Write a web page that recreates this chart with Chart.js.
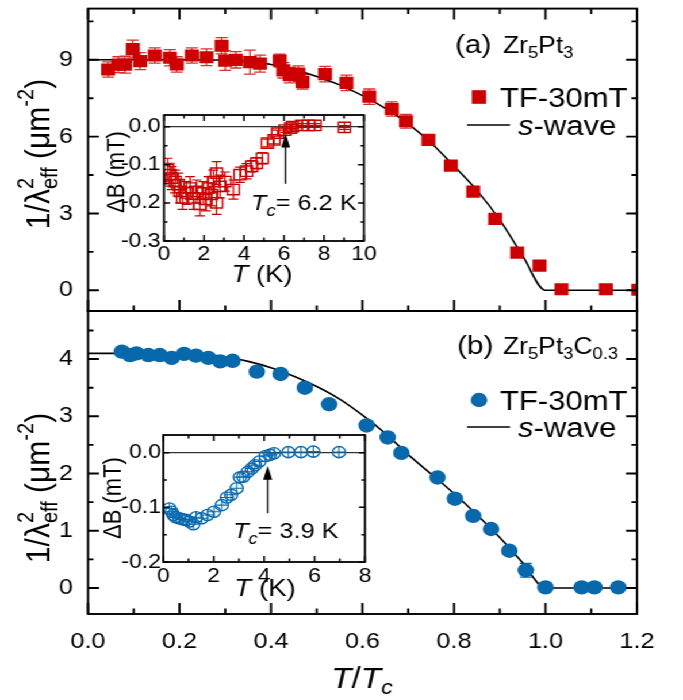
<!DOCTYPE html>
<html><head><meta charset="utf-8">
<script src="https://cdn.jsdelivr.net/npm/chart.js@4.4.1/dist/chart.umd.min.js"></script>
<style>
html,body{margin:0;padding:0;background:#fff;overflow:hidden;width:683px;height:700px}
#wrap{position:absolute;left:0;top:0;width:594px;height:700px;transform:scaleX(1.149832);transform-origin:0 0}
canvas{position:absolute;left:0}
</style></head><body>
<div id="wrap">
<canvas id="cA" width="594" height="320" style="top:0px;width:594px;height:320px"></canvas>
<canvas id="cB" width="594" height="400" style="top:300px;width:594px;height:400px"></canvas>
<canvas id="cC" width="594" height="200" style="top:100px;width:594px;height:200px"></canvas>
<canvas id="cD" width="594" height="200" style="top:420px;width:594px;height:200px"></canvas>
</div>
<script>
// ---------- DATA ----------
// (a) Zr5Pt3, TF-30mT : T/Tc, 1/lambda^2 (um^-2), error
const tA   = [0.044,0.066,0.081,0.098,0.114,0.146,0.179,0.194,0.227,0.259,0.292,0.300,0.323,0.354,0.376,0.419,0.427,0.441,0.460,0.469,0.518,0.565,0.615,0.664,0.695,0.744,0.793,0.842,0.890,0.938,0.987,1.035,1.132,1.203];
const lamA = [8.62,8.81,8.81,9.42,8.95,9.17,9.08,8.82,9.17,9.10,9.55,8.97,9.00,8.91,8.85,8.97,8.59,8.40,8.46,8.14,8.44,8.10,7.56,7.08,6.60,5.87,4.87,3.85,2.79,1.47,0.96,0.04,0.04,0.02];
const errA = [0.30,0.31,0.33,0.35,0.33,0.30,0.32,0.30,0.30,0.33,0.32,0.38,0.32,0.47,0.33,0.25,0.30,0.30,0.30,0.28,0.30,0.30,0.30,0.28,0.27,0.15,0.15,0.15,0.15,0.15,0.15,0.15,0.15,0.15];
// (a) s-wave fit
const fitTA = [0,0.1,0.2,0.3,0.35,0.4,0.45,0.5,0.55,0.6,0.65,0.7,0.75,0.8,0.85,0.9,0.95,1.0,1.2];
const fitA  = [9.0,9.0,9.0,8.99,8.93,8.82,8.62,8.35,8.02,7.6,7.1,6.5,5.75,4.85,3.9,2.75,1.35,0,0];
// (b) Zr5Pt3C0.3, TF-30mT
const tB   = [0.074,0.092,0.106,0.132,0.157,0.183,0.210,0.236,0.263,0.289,0.316,0.369,0.421,0.474,0.527,0.609,0.655,0.685,0.764,0.802,0.842,0.881,0.921,0.957,1.000,1.079,1.107,1.159];
const lamB = [4.13,4.07,4.10,4.07,4.07,4.02,4.09,4.06,4.02,3.96,3.97,3.78,3.74,3.50,3.21,2.84,2.63,2.36,1.93,1.56,1.26,1.03,0.65,0.31,0.01,0.01,0.01,0.01];
const errB = [0.03,0.03,0.03,0.03,0.03,0.03,0.03,0.03,0.03,0.03,0.03,0.03,0.03,0.03,0.03,0.03,0.03,0.03,0.03,0.03,0.03,0.03,0.04,0.12,0.03,0.03,0.03,0.03];
// (b) s-wave fit
const fitTB = [0,0.1,0.2,0.3,0.35,0.4,0.45,0.5,0.55,0.6,0.65,0.7,0.75,0.8,0.85,0.9,0.95,1.0,1.2];
const fitB  = [4.10,4.10,4.09,4.04,3.96,3.85,3.70,3.52,3.30,3.02,2.70,2.33,1.99,1.65,1.28,0.88,0.44,0,0];
// inset (a): T (K), dB (mT), error
const tIa  = [0.18,0.30,0.38,0.55,0.72,0.80,0.93,1.13,1.30,1.47,1.63,1.80,1.97,2.10,2.22,2.38,2.47,2.63,2.63,2.80,3.05,3.47,3.80,4.13,4.38,4.63,4.92,5.17,5.50,5.68,6.05,6.33,6.43,6.88,7.22,7.55,9.02];
const dBa  = [-0.113,-0.126,-0.135,-0.144,-0.152,-0.170,-0.187,-0.174,-0.161,-0.187,-0.170,-0.204,-0.174,-0.191,-0.161,-0.178,-0.144,-0.200,-0.122,-0.157,-0.144,-0.165,-0.126,-0.117,-0.104,-0.096,-0.083,-0.043,-0.035,-0.017,-0.009,-0.004,0.000,0.003,0.003,0.003,-0.002];
const eIa  = [0.03,0.03,0.03,0.03,0.03,0.03,0.03,0.03,0.03,0.03,0.03,0.03,0.03,0.03,0.03,0.03,0.03,0.03,0.03,0.03,0.025,0.025,0.02,0.02,0.015,0.015,0.015,0.01,0.01,0.008,0.006,0.005,0.005,0.005,0.005,0.005,0.005];
// inset (b)
const tIb  = [0.24,0.33,0.40,0.50,0.63,0.77,0.90,1.03,1.19,1.30,1.52,1.75,2.01,2.32,2.52,2.69,2.91,3.04,3.17,3.35,3.51,3.64,3.81,4.06,4.23,4.39,4.96,5.46,5.95,6.97];
const dBb  = [-0.102,-0.108,-0.114,-0.118,-0.120,-0.122,-0.123,-0.126,-0.131,-0.118,-0.120,-0.114,-0.108,-0.096,-0.082,-0.077,-0.065,-0.045,-0.044,-0.035,-0.029,-0.023,-0.016,-0.006,-0.004,-0.001,0.001,0.001,0.002,0.001];
// ticks
const xTicks = [0,0.2,0.4,0.6,0.8,1.0,1.2];
const xTickLabels = ['0.0','0.2','0.4','0.6','0.8','1.0','1.2'];
const xMinor = [0.1,0.3,0.5,0.7,0.9,1.1];
const yTicksA = [0,3,6,9];
const yMinorA = [1.5,4.5,7.5,10.5];
const yTicksB = [0,1,2,3,4];
const yMinorB = [0.5,1.5,2.5,3.5,4.5];
const xTicksIa = [0,2,4,6,8,10], xMinorIa = [1,3,5,7,9];
const yTicksIa = [0,-0.1,-0.2,-0.3], yMinorIa = [-0.05,-0.15,-0.25];
const yTickLabelsIa = ['0.0','-0.1','-0.2','-0.3'];
const xTicksIb = [0,2,4,6,8], xMinorIb = [1,3,5,7];
const yTicksIb = [0,-0.1,-0.2], yMinorIb = [-0.05,-0.15];
const yTickLabelsIb = ['0.0','-0.1','-0.2'];
const tcA = 6.2, tcB = 3.9;
const arrowA = [6.08,-0.150,-0.018], arrowB = [4.14,-0.111,-0.024];

// ---------- helpers ----------
const S = 683/594;
const ix = v => v / S;
const FAM = '"Liberation Sans", Arial, Helvetica, sans-serif';
const RED = '#cc0000', BLUE = '#0868ac';
const font = (s, i) => (i ? 'italic ' : '') + s + 'px ' + FAM;
const pts = (xs, ys) => xs.map((x, i) => ({x, y: ys[i]}));

function rich(ctx, parts, x, y, align, rot) {
  const m = parts.map(p => { ctx.font = font(p.s, p.i); return ctx.measureText(p.t).width; });
  let total = 0; parts.forEach((p, k) => { if (p.adv !== 0) total += m[k]; });
  ctx.save();
  ctx.translate(x, y);
  if (rot) ctx.rotate(rot);
  let cx = align === 'center' ? -total / 2 : 0;
  ctx.textBaseline = 'alphabetic'; ctx.textAlign = 'left'; ctx.fillStyle = '#000';
  parts.forEach((p, k) => { ctx.font = font(p.s, p.i); ctx.fillText(p.t, cx, p.dy || 0); if (p.adv !== 0) cx += m[k]; });
  ctx.restore();
}

function framePlugin(id, o) {
  return { id, afterDatasetsDraw(chart) {
    const {ctx, chartArea: a, scales: {x, y}} = chart;
    ctx.save(); ctx.strokeStyle = '#000';
    ctx.lineWidth = o.lw;
    ctx.strokeRect(a.left, a.top, a.right - a.left, a.bottom - a.top);
    ctx.beginPath();
    const xt = (vals, L) => vals.forEach(v => { const px = x.getPixelForValue(v);
      ctx.moveTo(px, a.bottom); ctx.lineTo(px, a.bottom - L);
      if (o.top) { ctx.moveTo(px, a.top); ctx.lineTo(px, a.top + L); } });
    const yt = (vals, L) => vals.forEach(v => { if (v < y.min || v > y.max) return; const py = y.getPixelForValue(v); const l = L / S;
      ctx.moveTo(a.left, py); ctx.lineTo(a.left + l, py);
      if (o.right) { ctx.moveTo(a.right, py); ctx.lineTo(a.right - l, py); } });
    xt(o.xMaj, o.maj); xt(o.xMin, o.min); yt(o.yMaj, o.maj); yt(o.yMin, o.min);
    ctx.lineWidth = o.tw; ctx.stroke();
    ctx.restore();
  }};
}

function drawErr(chart, phase) {
  const ctx = chart.ctx, ys = chart.scales.y, a = chart.chartArea;
  chart.data.datasets.forEach((ds, i) => {
    if (!ds.errorBars || (ds.errPhase || 'before') !== phase) return;
    const meta = chart.getDatasetMeta(i);
    ctx.save();
    ctx.beginPath(); ctx.rect(a.left, a.top, a.right - a.left, a.bottom - a.top); ctx.clip();
    ctx.strokeStyle = ds.errColor || ds.borderColor; ctx.lineWidth = ds.errWidth || 1.2;
    ctx.beginPath();
    meta.data.forEach((pt, j) => {
      const v = ds.data[j].y, e = ds.errorBars[j], c = ds.errCap;
      const y1 = ys.getPixelForValue(v + e), y2 = ys.getPixelForValue(v - e), x = pt.x;
      ctx.moveTo(x, y1); ctx.lineTo(x, y2);
      ctx.moveTo(x - c, y1); ctx.lineTo(x + c, y1);
      ctx.moveTo(x - c, y2); ctx.lineTo(x + c, y2);
    });
    ctx.stroke();
    ctx.restore();
  });
}
const errPlugin = { id: 'errbars',
  beforeDatasetsDraw(chart) { drawErr(chart, 'before'); },
  afterDatasetsDraw(chart) { drawErr(chart, 'after'); } };

function zeroLine(chart) {
  const {ctx, chartArea: a, scales: {y}} = chart;
  const py = y.getPixelForValue(0);
  ctx.save(); ctx.strokeStyle = '#333'; ctx.lineWidth = 1.3;
  ctx.beginPath(); ctx.moveTo(a.left, py); ctx.lineTo(a.right, py); ctx.stroke(); ctx.restore();
}
function arrow(chart, arr) {
  const {ctx, scales: {x, y}} = chart;
  const px = x.getPixelForValue(arr[0]), y1 = y.getPixelForValue(arr[1]), y2 = y.getPixelForValue(arr[2]);
  const head = 14, hw = ix(4.5);
  ctx.save(); ctx.strokeStyle = '#000'; ctx.fillStyle = '#000'; ctx.lineWidth = 1.3;
  ctx.beginPath(); ctx.moveTo(px, y1); ctx.lineTo(px, y2 + head - 1); ctx.stroke();
  ctx.beginPath(); ctx.moveTo(px, y2); ctx.lineTo(px - hw, y2 + head); ctx.lineTo(px + hw, y2 + head); ctx.closePath(); ctx.fill();
  ctx.restore();
}

function yAxisOpts(min, max, ticks, labels, size, pad, width) {
  return { type: 'linear', min, max,
    grid: {display: false, drawTicks: false}, border: {display: false},
    ticks: {font: {family: FAM, size}, color: '#000', padding: pad, autoSkip: false,
      callback: (v, i) => labels ? labels[i] : String(v)},
    afterBuildTicks: s => { s.ticks = ticks.map(v => ({value: v})); },
    afterFit: s => { s.width = width; s.paddingTop = 0; s.paddingBottom = 0; } };
}
function xAxisOpts(min, max, ticks, labels, size, pad, height, show) {
  return { type: 'linear', min, max,
    grid: {display: false, drawTicks: false}, border: {display: false},
    ticks: {display: show, font: {family: FAM, size}, color: '#000', padding: pad, autoSkip: false, maxRotation: 0, minRotation: 0,
      callback: (v, i) => labels ? labels[i] : String(v)},
    afterBuildTicks: s => { s.ticks = ticks.map(v => ({value: v})); },
    afterFit: s => { s.height = height; s.paddingLeft = 0; s.paddingRight = 0; } };
}
const base = { responsive: false, animation: false, events: [],
  plugins: {legend: {display: false}, tooltip: {enabled: false}} };

const ytitle = [{t:'1/λ',s:30},{t:'2',s:20,dy:-14,adv:0},{t:'eff',s:20,dy:7},{t:' (μm',s:30},{t:'-2',s:20,dy:-14},{t:')',s:30}];

// ---------- (a) main ----------
new Chart(document.getElementById('cA'), {
  type: 'scatter',
  data: {datasets: [
    {label: 'TF-30mT', data: pts(tA, lamA), pointStyle: 'rect', pointRadius: 8.6, backgroundColor: RED, borderColor: RED, borderWidth: 0,
     clip: 0, order: 0, errorBars: errA, errCap: ix(6), errColor: '#d83030', errWidth: 1.3},
    {label: 's-wave', data: pts(fitTA, fitA), showLine: true, pointRadius: 0, borderColor: '#000', borderWidth: 1.6,
     cubicInterpolationMode: 'monotone', clip: 0, order: 1}
  ]},
  options: Object.assign({}, base, {
    layout: {padding: {left: 0, top: 4, right: 594 - ix(637), bottom: 9}},
    scales: {
      x: xAxisOpts(0, 1.2, xTicks, xTickLabels, 21, 0, 0, false),
      y: yAxisOpts(-0.81, 11.0, yTicksA, null, 22, 13, ix(88))
    }
  }),
  plugins: [errPlugin,
    framePlugin('frameA', {lw: 1.9, tw: 1.9, maj: 11, min: 5.5, top: true, right: true, xMaj: xTicks, xMin: xMinor, yMaj: yTicksA, yMin: yMinorA}),
    {id: 'decoA', afterDraw(chart) {
      const ctx = chart.ctx;
      rich(ctx, ytitle, ix(49), 154, 'center', -Math.PI / 2);
      rich(ctx, [{t:'(a)',s:26}], ix(455), 53);
      rich(ctx, [{t:'Zr',s:23},{t:'5',s:16,dy:5},{t:'Pt',s:23},{t:'3',s:16,dy:5}], ix(503), 53);
      ctx.fillStyle = RED; ctx.fillRect(ix(479) - 6.2, 97 - 6.8, 12.4, 13.6);
      rich(ctx, [{t:'TF-30mT',s:27}], ix(500), 107);
      ctx.strokeStyle = '#000'; ctx.lineWidth = 1.6;
      ctx.beginPath(); ctx.moveTo(ix(467), 125); ctx.lineTo(ix(510), 125); ctx.stroke();
      rich(ctx, [{t:'s',s:27,i:true},{t:'-wave',s:27}], ix(518), 135);
    }}]
});

// ---------- (b) main ----------
new Chart(document.getElementById('cB'), {
  type: 'scatter',
  data: {datasets: [
    {label: 'TF-30mT', data: pts(tB, lamB), pointStyle: 'circle', pointRadius: 7.2, backgroundColor: BLUE, borderColor: BLUE, borderWidth: 0,
     clip: 0, order: 0, errorBars: errB, errCap: ix(6), errColor: BLUE, errWidth: 1.3},
    {label: 's-wave', data: pts(fitTB, fitB), showLine: true, pointRadius: 0, borderColor: '#000', borderWidth: 1.6,
     cubicInterpolationMode: 'monotone', clip: 0, order: 1}
  ]},
  options: Object.assign({}, base, {
    layout: {padding: {left: 0, top: 11, right: 594 - ix(637), bottom: 0}},
    scales: {
      x: xAxisOpts(0, 1.2, xTicks, xTickLabels, 22, 15, 86, true),
      y: yAxisOpts(-0.455, 4.84, yTicksB, null, 22, 13, ix(88))
    }
  }),
  plugins: [errPlugin,
    framePlugin('frameB', {lw: 1.9, tw: 1.9, maj: 11, min: 5.5, top: false, right: true, xMaj: xTicks, xMin: xMinor, yMaj: yTicksB, yMin: yMinorB}),
    {id: 'decoB', afterDraw(chart) {
      const ctx = chart.ctx;
      rich(ctx, ytitle, ix(49), 188, 'center', -Math.PI / 2);
      rich(ctx, [{t:'T',s:29,i:true},{t:'/',s:29},{t:'T',s:29,i:true},{t:'c',s:20,i:true,dy:6}], ix(362), 388, 'center');
      rich(ctx, [{t:'(b)',s:26}], ix(457), 54);
      rich(ctx, [{t:'Zr',s:23},{t:'5',s:16,dy:5},{t:'Pt',s:23},{t:'3',s:16,dy:5},{t:'C',s:23},{t:'0.3',s:16,dy:5}], ix(503), 54);
      ctx.fillStyle = BLUE; ctx.beginPath(); ctx.arc(ix(479), 100, 7.2, 0, Math.PI * 2); ctx.fill();
      rich(ctx, [{t:'TF-30mT',s:27}], ix(500), 110);
      ctx.strokeStyle = '#000'; ctx.lineWidth = 1.6;
      ctx.beginPath(); ctx.moveTo(ix(467), 127); ctx.lineTo(ix(510), 127); ctx.stroke();
      rich(ctx, [{t:'s',s:27,i:true},{t:'-wave',s:27}], ix(518), 137);
    }}]
});

// ---------- inset (a) ----------
new Chart(document.getElementById('cC'), {
  type: 'scatter',
  data: {datasets: [
    {data: pts(tIa, dBa), pointStyle: 'rect', pointRadius: 7.3, backgroundColor: 'rgba(0,0,0,0)', borderColor: RED, borderWidth: 1.4,
     clip: 0, errorBars: eIa, errCap: ix(5), errColor: RED, errWidth: 1.2, errPhase: 'before'},
    {data: pts(tIa, dBa), pointStyle: 'cross', pointRadius: c => (tIa[c.dataIndex] > 6.2 ? 5 : 0), borderColor: RED, borderWidth: 1.2, clip: 0}
  ]},
  options: Object.assign({}, base, {
    layout: {padding: {left: 0, top: 15, right: 594 - ix(364), bottom: 0}},
    scales: {
      x: xAxisOpts(0, 10, xTicksIa, null, 20, 1, 59, true),
      y: yAxisOpts(-0.3, 0.0305, yTicksIa, yTickLabelsIa, 20, 3, ix(164))
    }
  }),
  plugins: [{id: 'zeroA', beforeDatasetsDraw(chart) { zeroLine(chart); }}, errPlugin,
    framePlugin('frameC', {lw: 1.8, tw: 1.5, maj: 6, min: 3.5, top: true, right: true, xMaj: xTicksIa, xMin: xMinorIa, yMaj: yTicksIa, yMin: yMinorIa}),
    {id: 'decoC', afterDraw(chart) {
      const ctx = chart.ctx;
      arrow(chart, arrowA);
      rich(ctx, [{t:'ΔB (mT)',s:22}], ix(124), 72, 'center', -Math.PI / 2);
      rich(ctx, [{t:'T',s:24,i:true},{t:' (K)',s:24}], ix(262), 182, 'center');
      rich(ctx, [{t:'T',s:22,i:true},{t:'c',s:16,i:true,dy:6},{t:'= ' + tcA.toFixed(1) + ' K',s:22}], ix(251), 110);
    }}]
});

// ---------- inset (b) ----------
new Chart(document.getElementById('cD'), {
  type: 'scatter',
  data: {datasets: [
    {data: pts(tIb, dBb), pointStyle: 'circle', pointRadius: 5.6, backgroundColor: 'rgba(0,0,0,0)', borderColor: BLUE, borderWidth: 1.4, clip: 0},
    {data: pts(tIb, dBb), pointStyle: 'cross', pointRadius: 5.6, borderColor: BLUE, borderWidth: 1.1, clip: 0}
  ]},
  options: Object.assign({}, base, {
    layout: {padding: {left: 0, top: 15, right: 594 - ix(365), bottom: 0}},
    scales: {
      x: xAxisOpts(0, 8, xTicksIb, null, 20, 2, 58, true),
      y: yAxisOpts(-0.2, 0.0324, yTicksIb, yTickLabelsIb, 20, 2, ix(163.3))
    }
  }),
  plugins: [{id: 'zeroB', beforeDatasetsDraw(chart) { zeroLine(chart); }},
    framePlugin('frameD', {lw: 1.8, tw: 1.5, maj: 6, min: 3.5, top: true, right: true, xMaj: xTicksIb, xMin: xMinorIb, yMaj: yTicksIb, yMin: yMinorIb}),
    {id: 'decoD', afterDraw(chart) {
      const ctx = chart.ctx;
      arrow(chart, arrowB);
      rich(ctx, [{t:'ΔB (mT)',s:22}], ix(121), 78, 'center', -Math.PI / 2);
      rich(ctx, [{t:'T',s:24,i:true},{t:' (K)',s:24}], ix(265), 176, 'center');
      rich(ctx, [{t:'T',s:22,i:true},{t:'c',s:16,i:true,dy:6},{t:'= ' + tcB.toFixed(1) + ' K',s:22}], ix(233), 118);
    }}]
});
</script>
</body></html>
